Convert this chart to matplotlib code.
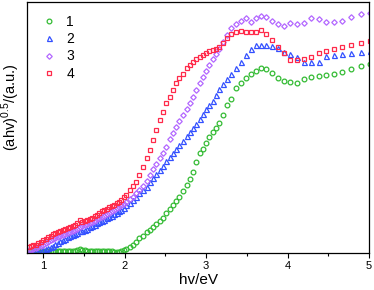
import matplotlib
matplotlib.use("Agg")
import matplotlib.pyplot as plt
from matplotlib.ticker import MultipleLocator, NullLocator

plt.rcParams["font.family"] = ["Liberation Sans", "DejaVu Sans"]
plt.rcParams["mathtext.fontset"] = "custom"
plt.rcParams["mathtext.rm"] = "Liberation Sans"

# photon energy grid (eV), shared by all four samples
hv = [0.82, 0.85, 0.88, 0.91, 0.94, 0.97, 1.00, 1.03, 1.06, 1.09,
      1.12, 1.15, 1.18, 1.21, 1.24, 1.27, 1.30, 1.33, 1.36, 1.39,
      1.42, 1.45, 1.48, 1.51, 1.54, 1.57, 1.60, 1.63, 1.66, 1.69,
      1.72, 1.75, 1.78, 1.81, 1.84, 1.87, 1.90, 1.93, 1.96, 1.99,
      2.02, 2.06, 2.10, 2.14, 2.18, 2.22, 2.27, 2.31, 2.35, 2.39,
      2.43, 2.47, 2.51, 2.55, 2.59, 2.63, 2.67, 2.71, 2.76, 2.80,
      2.84, 2.88, 2.92, 2.96, 3.00, 3.04, 3.08, 3.12, 3.16, 3.21,
      3.26, 3.31, 3.37, 3.43, 3.49, 3.55, 3.61, 3.67, 3.74, 3.81,
      3.88, 3.96, 4.03, 4.11, 4.20, 4.29, 4.38, 4.47, 4.57, 4.67,
      4.78, 4.90, 5.01]

s1 = [0.006, 0.006, 0.006, 0.006, 0.006, 0.006, 0.006, 0.006, 0.006, 0.006,
      0.006, 0.006, 0.006, 0.006, 0.006, 0.007, 0.007, 0.007, 0.008, 0.009,
      0.011, 0.014, 0.012, 0.010, 0.009, 0.008, 0.008, 0.008, 0.007, 0.007,
      0.007, 0.007, 0.006, 0.006, 0.006, 0.005, 0.004, 0.005, 0.008, 0.012,
      0.017, 0.024, 0.032, 0.045, 0.058, 0.068, 0.082, 0.093, 0.104, 0.116,
      0.127, 0.140, 0.158, 0.173, 0.190, 0.206, 0.224, 0.246, 0.270, 0.295,
      0.324, 0.362, 0.397, 0.415, 0.440, 0.460, 0.480, 0.497, 0.517, 0.550,
      0.590, 0.615, 0.656, 0.679, 0.696, 0.713, 0.726, 0.736, 0.733, 0.716,
      0.696, 0.685, 0.681, 0.679, 0.692, 0.700, 0.705, 0.708, 0.713, 0.722,
      0.732, 0.745, 0.752]

s2 = [0.000, 0.001, 0.002, 0.003, 0.005, 0.008, 0.012, 0.016, 0.020, 0.024,
      0.029, 0.034, 0.040, 0.046, 0.052, 0.057, 0.062, 0.066, 0.070, 0.074,
      0.078, 0.087, 0.088, 0.093, 0.097, 0.102, 0.107, 0.112, 0.118, 0.123,
      0.127, 0.132, 0.138, 0.143, 0.148, 0.153, 0.160, 0.166, 0.172, 0.180,
      0.191, 0.200, 0.211, 0.224, 0.238, 0.250, 0.264, 0.281, 0.298, 0.315,
      0.331, 0.348, 0.366, 0.384, 0.400, 0.415, 0.430, 0.447, 0.465, 0.482,
      0.498, 0.515, 0.532, 0.553, 0.572, 0.588, 0.606, 0.630, 0.655, 0.675,
      0.692, 0.712, 0.736, 0.762, 0.789, 0.812, 0.829, 0.829, 0.829, 0.825,
      0.818, 0.802, 0.793, 0.782, 0.762, 0.762, 0.762, 0.785, 0.789, 0.793,
      0.798, 0.802, 0.805]

s3 = [0.011, 0.013, 0.016, 0.019, 0.023, 0.027, 0.032, 0.038, 0.044, 0.050,
      0.055, 0.060, 0.065, 0.069, 0.073, 0.077, 0.081, 0.085, 0.089, 0.093,
      0.097, 0.105, 0.106, 0.110, 0.114, 0.118, 0.123, 0.128, 0.134, 0.140,
      0.144, 0.149, 0.155, 0.160, 0.165, 0.171, 0.177, 0.182, 0.189, 0.196,
      0.204, 0.213, 0.224, 0.237, 0.251, 0.266, 0.285, 0.311, 0.333, 0.355,
      0.377, 0.398, 0.422, 0.452, 0.478, 0.503, 0.527, 0.550, 0.574, 0.596,
      0.622, 0.650, 0.676, 0.703, 0.727, 0.749, 0.771, 0.792, 0.812, 0.840,
      0.870, 0.895, 0.913, 0.926, 0.935, 0.922, 0.935, 0.944, 0.941, 0.925,
      0.912, 0.904, 0.918, 0.912, 0.918, 0.935, 0.931, 0.922, 0.922, 0.925,
      0.939, 0.952, 0.955]

s4 = [0.024, 0.027, 0.030, 0.033, 0.038, 0.044, 0.050, 0.056, 0.063, 0.069,
      0.075, 0.080, 0.085, 0.089, 0.093, 0.097, 0.101, 0.105, 0.109, 0.113,
      0.118, 0.132, 0.124, 0.128, 0.132, 0.136, 0.141, 0.146, 0.152, 0.160,
      0.165, 0.170, 0.176, 0.181, 0.186, 0.191, 0.197, 0.204, 0.211, 0.221,
      0.231, 0.249, 0.267, 0.284, 0.311, 0.344, 0.377, 0.410, 0.450, 0.490,
      0.530, 0.563, 0.596, 0.623, 0.650, 0.676, 0.698, 0.715, 0.736, 0.750,
      0.762, 0.772, 0.782, 0.789, 0.796, 0.803, 0.809, 0.813, 0.820, 0.836,
      0.858, 0.872, 0.879, 0.886, 0.881, 0.881, 0.882, 0.888, 0.872, 0.850,
      0.820, 0.796, 0.770, 0.769, 0.772, 0.782, 0.796, 0.806, 0.812, 0.822,
      0.829, 0.838, 0.845]

labels = ["1", "2", "3", "4"]
markers = ["o", "^", "D", "s"]
colors = ["#33bb33", "#3350ff", "#b266ff", "#ff2a4a"]
sizes = [3.4, 3.6, 2.8, 3.2]

fig = plt.figure(figsize=(3.74, 2.90), dpi=100)
ax = fig.add_axes([0.072, 0.128, 0.915, 0.865])

for y, lab, m, c, ms in zip([s1, s2, s3, s4], labels, markers, colors, sizes):
    ax.plot(hv, y, ls="none", marker=m, ms=ms, mfc="none", mec=c, mew=0.9,
            label=lab)

ax.set_xlim(0.8, 5.0)
ax.set_ylim(0, 1.0)
ax.xaxis.set_major_locator(MultipleLocator(1))
ax.xaxis.set_minor_locator(MultipleLocator(0.5))
ax.yaxis.set_major_locator(NullLocator())
ax.tick_params(axis="x", which="major", direction="out", length=3.5, width=0.8,
               labelsize=8, pad=2)
ax.tick_params(axis="x", which="minor", direction="out", length=2, width=0.8)
for sp in ax.spines.values():
    sp.set_linewidth(0.9)

ax.set_xlabel("hv/eV", fontsize=11, labelpad=2)
ax.set_ylabel("(ahv)$^{0.5}$/(a.u.)", fontsize=10.5)
ax.yaxis.set_label_coords(-0.014, 0.58)

leg = ax.legend(loc="upper left", frameon=False, fontsize=10, handletextpad=0.6,
                labelspacing=0.25, handlelength=1.2, borderaxespad=0.5,
                bbox_to_anchor=(0.005, 1.0))
for h, c in zip(leg.legend_handles, colors):
    h.set_markeredgecolor(c)

fig.savefig("out.png", dpi=100)
